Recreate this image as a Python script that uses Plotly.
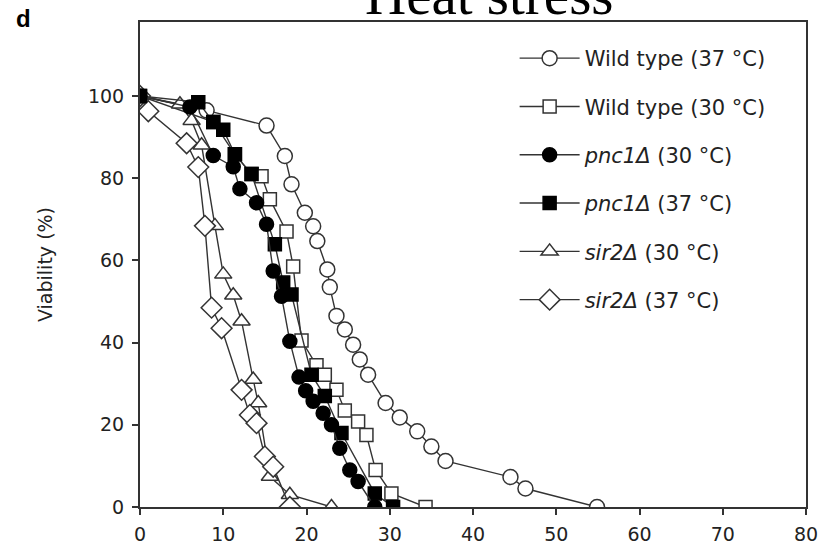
import plotly.graph_objects as go

# ---------------- data ----------------
wt37_x = [0, 8, 15.2, 17.4, 18.2, 19.8, 20.8, 21.3, 22.5, 22.8, 23.6, 24.6, 25.6, 26.4, 27.4, 29.5, 31.2, 33.3, 35.0, 36.7, 44.5, 46.3, 54.9]
wt37_y = [100, 96.5, 92.8, 85.4, 78.5, 71.6, 68.3, 64.7, 57.8, 53.5, 46.5, 43.2, 39.5, 35.9, 32.2, 25.3, 21.8, 18.4, 14.7, 11.2, 7.3, 4.5, 0]

wt30_x = [0, 8.8, 11.4, 13.4, 14.6, 15.6, 17.6, 18.4, 19.4, 21.2, 22.2, 23.6, 24.6, 26.2, 27.2, 28.3, 30.2, 34.3]
wt30_y = [100, 93.7, 85.8, 81, 80.5, 74.9, 67, 58.5, 40.5, 34.5, 32.2, 28.5, 23.5, 20.8, 17.5, 9, 3.3, 0]

pnc30_x = [0, 6, 8.8, 11.2, 12, 14, 15.2, 16, 17, 18, 19.1, 19.9, 20.8, 22, 23, 24, 25.2, 26.2, 28.2]
pnc30_y = [100, 97.3, 85.5, 82.8, 77.4, 74, 68.8, 57.4, 51.3, 40.3, 31.6, 28.3, 25.7, 22.8, 20, 14.3, 9, 6.2, 0]

pnc37_x = [0, 7, 8.8, 10, 11.4, 13.4, 16.2, 17.2, 18.2, 20.6, 22.2, 24.2, 28.2, 30.4]
pnc37_y = [100, 98.5, 93.7, 91.8, 85.8, 81, 63.9, 54.6, 51.7, 32.2, 27, 18, 3.3, 0]

sir30_x = [0, 4.8, 6.2, 7.4, 9.0, 10, 11.2, 12.2, 13.6, 14.2, 15.6, 18, 23]
sir30_y = [100, 98, 94, 88, 68.4, 56.6, 51.5, 45.2, 31, 25.3, 7.4, 3, 0]

sir37_x = [0, 1, 5.6, 7, 7.8, 8.6, 9.8, 12.2, 13.2, 14, 15, 16, 18]
sir37_y = [100, 96.3, 88.5, 82.7, 68.4, 48.5, 43.5, 28.5, 22.4, 20.4, 12.3, 9.8, 0]

x_ticks = [0, 10, 20, 30, 40, 50, 60, 70, 80]
y_ticks = [0, 20, 40, 60, 80, 100]

INK = "#333333"
FONT = "DejaVu Sans"

series = [
    # (name, x, y, symbol, fill, legendrank, size)
    ("Wild type (37 °C)", wt37_x, wt37_y, "circle", "white", 1, 15),
    ("Wild type (30 °C)", wt30_x, wt30_y, "square", "white", 2, 13),
    ("<i>sir2Δ</i> (30 °C)", sir30_x, sir30_y, "triangle-up", "white", 5, 15),
    ("<i>sir2Δ</i> (37 °C)", sir37_x, sir37_y, "diamond", "white", 6, 16),
    ("<i>pnc1Δ</i> (37 °C)", pnc37_x, pnc37_y, "square", "black", 4, 13),
    ("<i>pnc1Δ</i> (30 °C)", pnc30_x, pnc30_y, "circle", "black", 3, 14),
]

fig = go.Figure()
for i, (name, xs, ys, sym, fill, rank, size) in enumerate(series):
    fig.add_trace(go.Scatter(
        x=xs, y=ys, name=name, mode="lines+markers",
        legendrank=rank, legendgroup="g%d" % rank,
        line=dict(color=INK, width=1.4),
        marker=dict(symbol=sym, size=size, color=fill,
                    line=dict(color=INK if fill == "white" else "black", width=1.5)),
    ))

axis_common = dict(
    showline=True, linecolor=INK, linewidth=2, mirror=True,
    ticks="outside", ticklen=6, tickwidth=1.5, tickcolor=INK,
    showgrid=False, zeroline=False, automargin=False,
    tickfont=dict(family=FONT, size=19, color="#222222"),
)

fig.update_xaxes(range=[0, 80], tickvals=x_ticks, ticklabelstandoff=3, **axis_common)
fig.update_yaxes(range=[0, 118], tickvals=y_ticks, ticklabelstandoff=4,
                 title=dict(text="Viability (%)", font=dict(family=FONT, size=19, color="#222222"), standoff=30),
                 **axis_common)

fig.update_layout(
    width=828, height=547,
    margin=dict(l=140, r=22, t=22, b=40),
    paper_bgcolor="white", plot_bgcolor="white",
    showlegend=True,
    legend=dict(
        x=0.5625, y=0.967, xanchor="left", yanchor="top",
        font=dict(family=FONT, size=21, color="#222222"),
        bgcolor="rgba(0,0,0,0)", tracegroupgap=18, itemwidth=60,
        traceorder="grouped",
    ),
    annotations=[
        dict(text="Heat stress", xref="paper", yref="paper", x=0.525, y=1.057,
             xanchor="center", yanchor="middle", showarrow=False,
             font=dict(family="Liberation Serif", size=57, color="black")),
        dict(text="<b>d</b>", xref="paper", yref="paper", x=-0.175, y=1.008,
             xanchor="center", yanchor="middle", showarrow=False,
             font=dict(family="Liberation Sans", size=24, color="black")),
    ],
)

fig.write_html("out.html")
